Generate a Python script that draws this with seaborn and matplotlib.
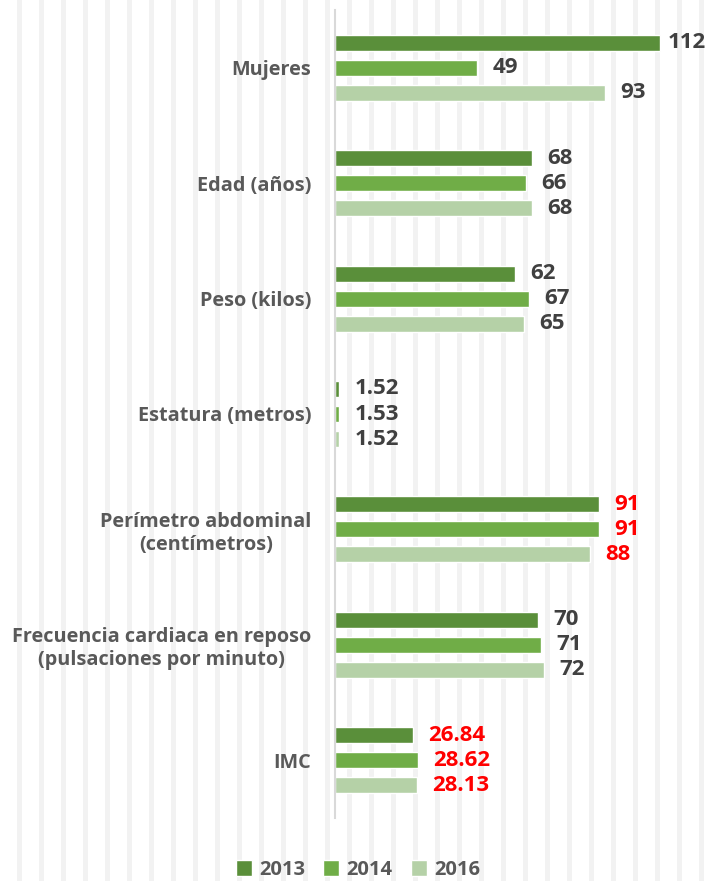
import pandas as pd
import matplotlib.pyplot as plt
import seaborn as sns

# data
categories = ['Mujeres', 'Edad (años)', 'Peso (kilos)', 'Estatura (metros)',
              'Perímetro abdominal\n(centímetros)',
              'Frecuencia cardiaca en reposo\n(pulsaciones por minuto)', 'IMC']
years = ['2013', '2014', '2016']
vals_2013 = [112, 68, 62, 1.52, 91, 70, 26.84]
vals_2014 = [49, 66, 67, 1.53, 91, 71, 28.62]
vals_2016 = [93, 68, 65, 1.52, 88, 72, 28.13]
red_categories = ['Perímetro abdominal\n(centímetros)', 'IMC']
colors = ['#5a8f3a', '#70ad47', '#b5d1a7']


def main():
    df = pd.DataFrame({
        'categoria': categories * 3,
        'anio': [y for y in years for _ in categories],
        'valor': vals_2013 + vals_2014 + vals_2016,
    })

    sns.set_style('white')
    plt.rcParams['font.family'] = ['Open Sans', 'DejaVu Sans']

    fig = plt.figure(figsize=(7.07, 8.81), dpi=100)

    # striped background like the original
    bg = fig.add_axes([0, 0, 1, 1], zorder=-1)
    bg.set_xlim(0, 707)
    bg.set_ylim(0, 881)
    for x in range(-5, 707, 22):
        bg.axvspan(x, x + 5, color='#f2f2f2', lw=0)
    bg.axis('off')

    ax = fig.add_axes([335 / 707, 1 - 818 / 881, 365 / 707, 808 / 881])
    ax.patch.set_alpha(0)
    sns.barplot(data=df, y='categoria', x='valor', hue='anio', order=categories,
                hue_order=years, palette=colors, orient='h', width=0.65,
                gap=0.36, saturation=1, ax=ax, legend=True)

    ax.set_xlim(0, 365 / 2.9)
    ax.set_xlabel('')
    ax.set_ylabel('')
    ax.set_xticks([])
    for s in ['top', 'right', 'bottom']:
        ax.spines[s].set_visible(False)
    ax.spines['left'].set_color('#d9d9d9')
    ax.spines['left'].set_linewidth(1.5)
    ax.tick_params(axis='y', length=0, pad=17)
    for lab in ax.get_yticklabels():
        lab.set_fontsize(14.3)
        lab.set_fontweight('bold')
        lab.set_color('#595959')
        lab.set_multialignment('center')

    all_texts = []
    for cont in ax.containers:
        texts = ax.bar_label(cont, fmt='{:g}', padding=11, fontsize=16,
                             fontweight='bold', color='#404040')
        for t, cat in zip(texts, categories):
            if cat in red_categories:
                t.set_color('#ff0000')
        all_texts += texts

    handles, labels = ax.get_legend_handles_labels()
    ax.legend(handles, labels, loc='center', bbox_to_anchor=(358 / 707, 1 - 870 / 881),
              bbox_transform=fig.transFigure, ncol=3, frameon=False,
              handlelength=0.8, handleheight=0.8, handletextpad=0.35,
              columnspacing=0.9, prop={'size': 14.5, 'weight': 'bold'},
              labelcolor='#595959')

    # keep labels that would run off the right edge inside the figure
    fig.canvas.draw()
    renderer = fig.canvas.get_renderer()
    for t in all_texts:
        bb = t.get_window_extent(renderer)
        if bb.x1 > 706:
            t.xyann = (t.xyann[0] - (bb.x1 - 706) * 72 / 100, t.xyann[1])

    fig.savefig('out.png', dpi=100)


if __name__ == "__main__":
    main()
